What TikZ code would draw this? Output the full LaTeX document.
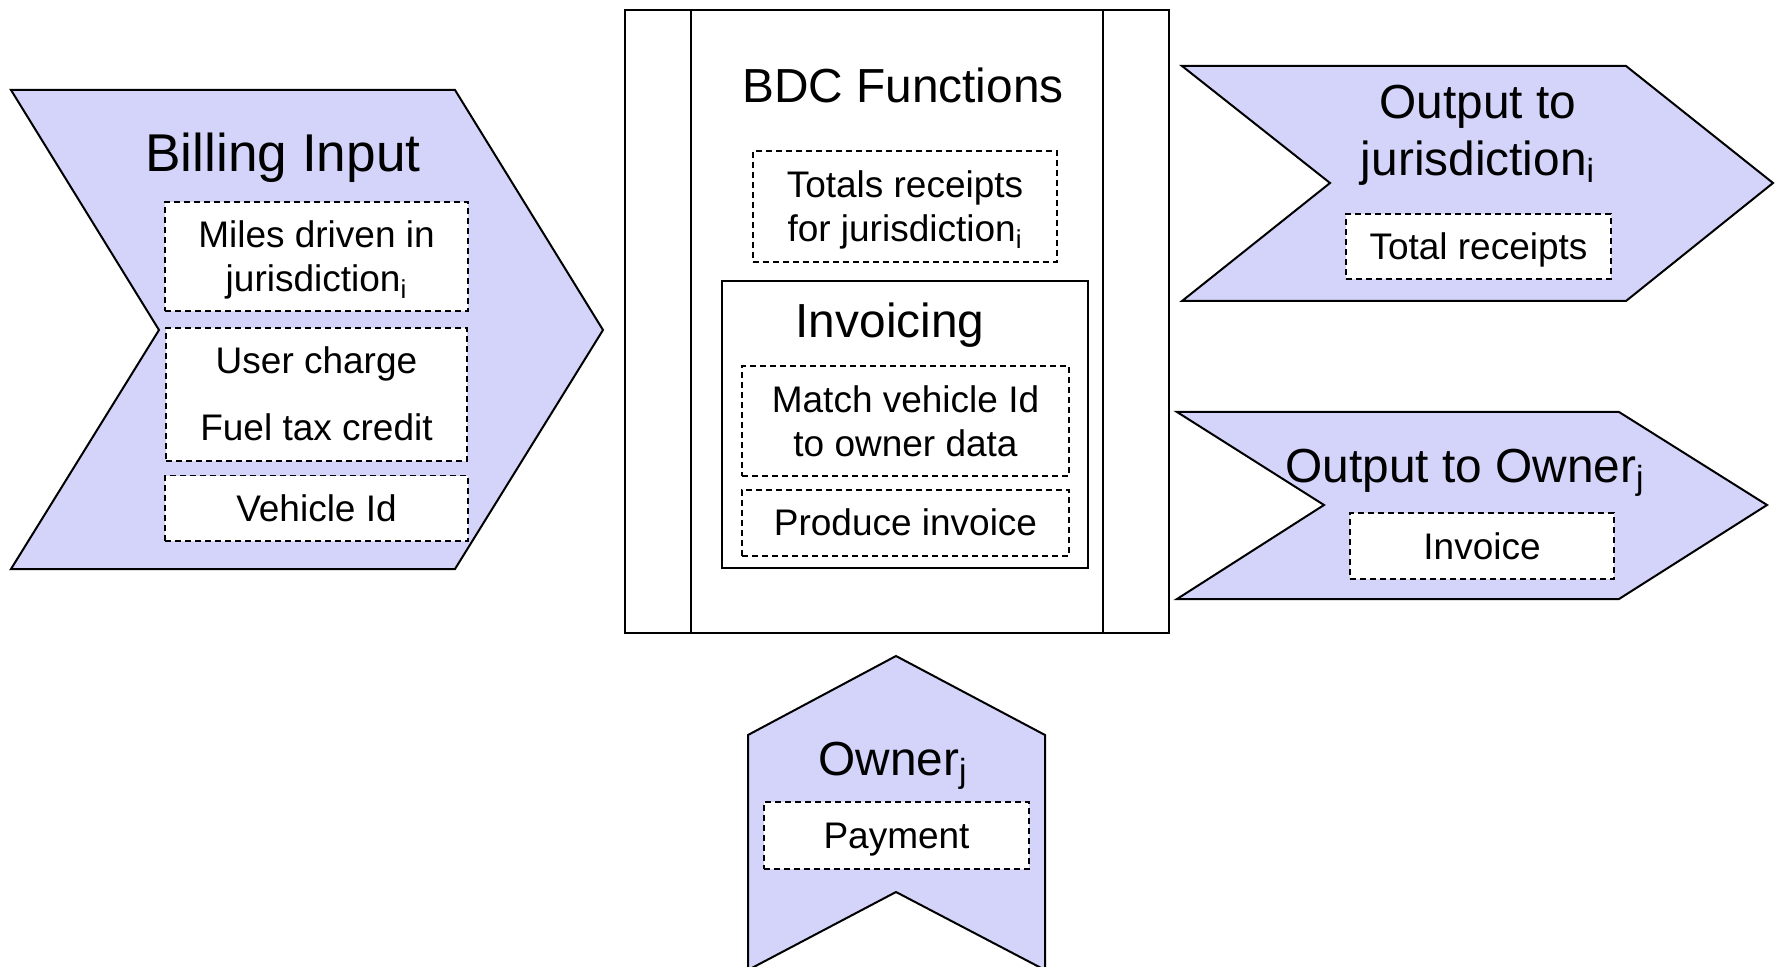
\documentclass[tikz,border=0pt]{standalone}
\usepackage{fontspec}
\setmainfont{Liberation Sans}
\usetikzlibrary{positioning}
\definecolor{chevfill}{RGB}{212,212,250}
\newcommand{\topst}{\rule{0pt}{0.98em}}
\newcommand{\botst}{\rule[-0.27em]{0pt}{0.27em}}
\tikzset{
  chev/.style={draw=black, line width=1pt, fill=chevfill},
  frame/.style={draw=black, line width=1pt},
  dbox/.style={draw=black, dash pattern=on 3pt off 2pt, line width=0.9pt, fill=white,
    align=center, inner sep=0pt, font=\fontsize{18.5}{22}\selectfont,
    execute at begin node=\topst, execute at end node=\botst},
  ttl/.style={align=center, font=\fontsize{23.9}{28.5}\selectfont,
    execute at begin node=\topst, execute at end node=\botst},
}

\begin{document}
\begin{tikzpicture}[x=0.5pt,y=-0.5pt]
\useasboundingbox (0,0) rectangle (1781,967);
\clip (0,0) rectangle (1781,967);
% billing input
\filldraw[chev] (11,90)--(455,90)--(603,330)--(455,569)--(11,569)--(159,330)--cycle;
\node[ttl, font=\fontsize{26.6}{30}\selectfont] (billing) at (283,153) {Billing Input};
\node[dbox, minimum width=151.5pt, minimum height=54.5pt] (miles) at (316.5,256.5) {\topst Miles driven in\\jurisdiction\textsubscript{i}};
\node[dbox, minimum width=150.5pt, minimum height=66.5pt, below=7.5pt of miles] (charge) {\topst User charge\\[11.5pt]Fuel tax credit};
\node[dbox, minimum width=151.5pt, minimum height=32.5pt, below=6.5pt of charge] (vid) {Vehicle Id};
% BDC functions
\draw[frame] (625,10) rectangle (1169,633);
\foreach \x in {690.6,1103} {
 \draw[frame] (\x,10) -- (\x,633);
}
\node[ttl] (bdc) at (903,86) {BDC Functions};
\node[dbox, minimum width=152pt, minimum height=55.5pt] (totals) at (905,206.5) {\topst Totals receipts\\for jurisdiction\textsubscript{i}};
\draw[frame] (722,281) rectangle (1088,568);
\node[ttl] (invoicing) at (890,321) {Invoicing};
\node[dbox, minimum width=163.5pt, minimum height=55pt] (match) at (905.5,421) {\topst Match vehicle Id\\to owner data};
\node[dbox, minimum width=163.5pt, minimum height=33pt, below=6pt of match] (produce) {Produce invoice};
% output to jurisdiction
\filldraw[chev] (1182,66)--(1626,66)--(1773,183)--(1626,301)--(1182,301)--(1330,183)--cycle;
\node[ttl] (outjur) at (1478,130) {\topst Output to\\jurisdiction\textsubscript{i}};
\node[dbox, minimum width=132.5pt, minimum height=32.5pt] (totrec) at (1478.5,246.5) {Total receipts};
% output to owner
\filldraw[chev] (1177,412)--(1619,412)--(1767,505)--(1619,599)--(1177,599)--(1324,505)--cycle;
\node[ttl] (outown) at (1465,466) {Output to Owner\textsubscript{j}};
\node[dbox, minimum width=132pt, minimum height=33pt] (invoice) at (1482,546) {Invoice};
% owner
\filldraw[chev] (896,656)--(1045,735)--(1045,970)--(896,892)--(748,970)--(748,735)--cycle;
\node[ttl] (owner) at (893,759) {Owner\textsubscript{j}};
\node[dbox, minimum width=132.5pt, minimum height=33.5pt] (payment) at (896.5,835.5) {Payment};
\end{tikzpicture}
\end{document}
